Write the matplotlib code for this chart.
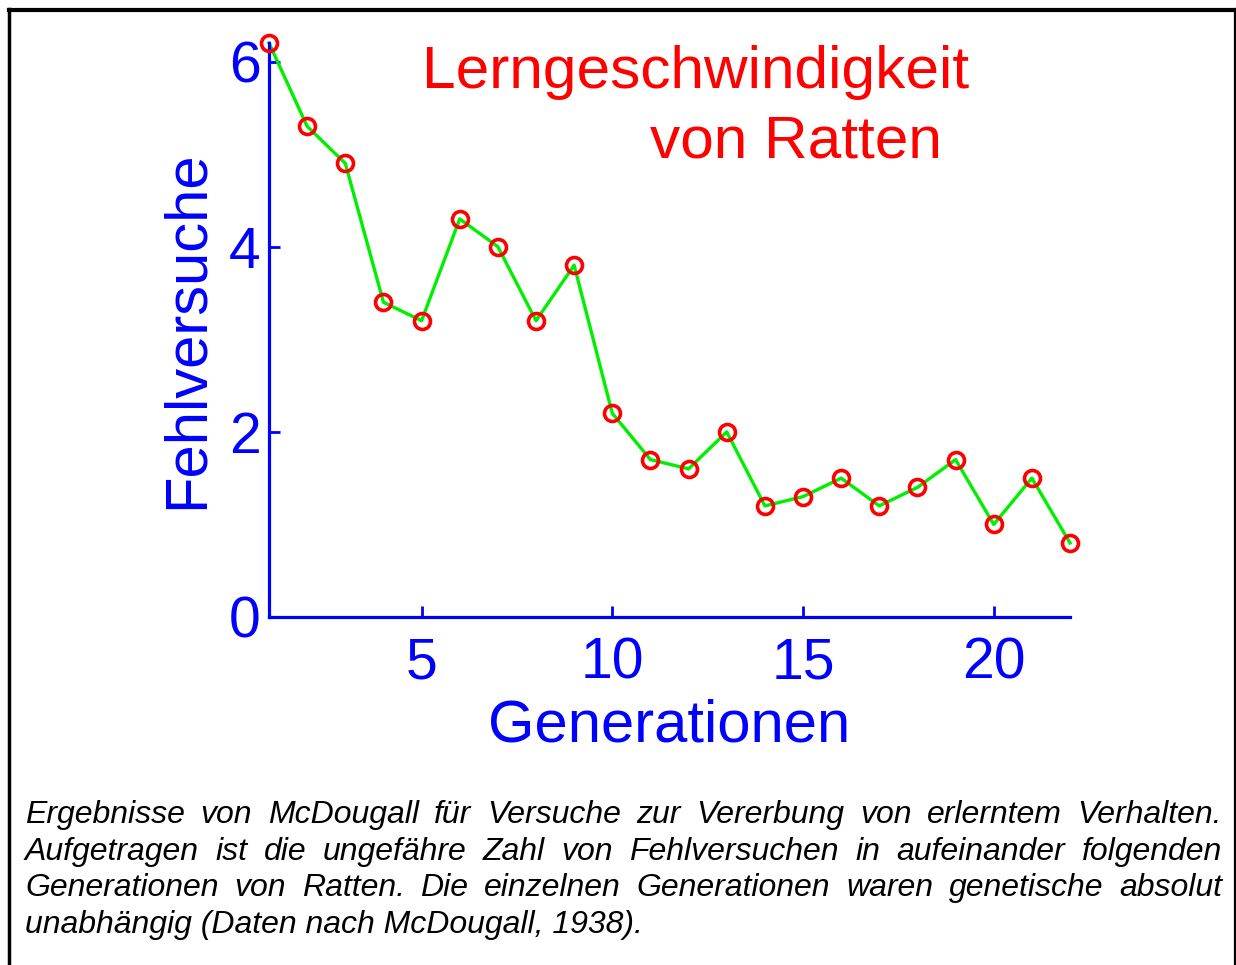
import matplotlib
matplotlib.use('Agg')
import matplotlib.pyplot as plt
from matplotlib.lines import Line2D

plt.rcParams['font.family'] = ['Liberation Sans', 'DejaVu Sans']

# data
generation = list(range(1, 23))
fehlversuche = [6.2, 5.3, 4.9, 3.4, 3.2, 4.3, 4.0, 3.2, 3.8, 2.2, 1.7,
                1.6, 2.0, 1.2, 1.3, 1.5, 1.2, 1.4, 1.7, 1.0, 1.5, 0.8]
xticks = [5, 10, 15, 20]
yticks = [0, 2, 4, 6]
caption = [
    "Ergebnisse von McDougall für Versuche zur Vererbung von erlerntem Verhalten.",
    "Aufgetragen ist die ungefähre Zahl von Fehlversuchen in aufeinander folgenden",
    "Generationen von Ratten. Die einzelnen Generationen waren genetische absolut",
    "unabhängig (Daten nach McDougall, 1938).",
]

W, H = 1236, 965
fig = plt.figure(figsize=(W / 100, H / 100), dpi=100)
fig.patch.set_facecolor('white')

def fx(px):
    return px / W

def fy(py):
    return 1 - py / H

# axes box in pixels: x 269..1070, y 43..617
ax = fig.add_axes([fx(269), fy(617), fx(1070) - fx(269), fy(43) - fy(617)])
ax.plot(generation, fehlversuche, color='#00ee00', lw=2.4, zorder=2, clip_on=False)
ax.plot(generation, fehlversuche, ls='none', marker='o', ms=11.5, mfc='none',
        mec='red', mew=2.6, zorder=3, clip_on=False)

ax.set_xlim(1, 22)
ax.set_ylim(0, 6.2)
ax.set_xticks(xticks)
ax.set_yticks(yticks)
for s in ['top', 'right']:
    ax.spines[s].set_visible(False)
for s in ['left', 'bottom']:
    ax.spines[s].set_color('blue')
    ax.spines[s].set_linewidth(2.3)
ax.tick_params(direction='in', length=8, width=2, color='blue',
               labelcolor='blue', labelsize=41)
ax.tick_params(axis='x', pad=14)
ax.tick_params(axis='y', pad=6)
ax.set_xlabel('Generationen', color='blue', fontsize=43, labelpad=6)
ax.set_ylabel('Fehlversuche', color='blue', fontsize=43)
# right edge of the rotated label sits near x=215 px
ax.yaxis.set_label_coords((215 - 269) / (1070 - 269), 0.5)

fig.text(fx(422), fy(73), 'Lerngeschwindigkeit', color='red', fontsize=43.5,
         ha='left', va='center')
fig.text(fx(650), fy(142), 'von Ratten', color='red', fontsize=43.5,
         ha='left', va='center')

# caption, justified like the original
renderer = fig.canvas.get_renderer()
left_px, right_px = 25, 1222
baselines = [823, 860, 896, 933]
for i, line in enumerate(caption):
    if i == len(caption) - 1:
        fig.text(fx(left_px), fy(baselines[i]), line, fontsize=23, style='italic',
                 ha='left', va='baseline')
        continue
    words = line.split(' ')
    arts = [fig.text(0, fy(baselines[i]), w, fontsize=23, style='italic',
                     ha='left', va='baseline') for w in words]
    widths = [a.get_window_extent(renderer).width for a in arts]
    gap = (right_px - left_px - sum(widths)) / (len(words) - 1)
    x = left_px
    for a, wd in zip(arts, widths):
        a.set_x(fx(x))
        x += wd + gap

# figure frame (no bottom edge)
fig.add_artist(Line2D([fx(9), fx(9)], [fy(9), 0], color='black', lw=2.5))
fig.add_artist(Line2D([fx(9), fx(1235)], [fy(9.5), fy(9.5)], color='black', lw=3))
fig.add_artist(Line2D([fx(1234.5), fx(1234.5)], [fy(9), 0], color='black', lw=1.6))

fig.savefig('out.png', dpi=100)
